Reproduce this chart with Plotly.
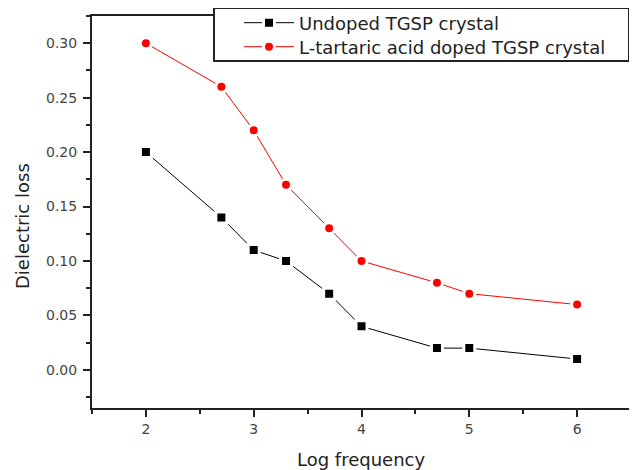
import plotly.graph_objects as go

log_freq = [2, 2.7, 3, 3.3, 3.7, 4, 4.7, 5, 6]
undoped = [0.20, 0.14, 0.11, 0.10, 0.07, 0.04, 0.02, 0.02, 0.01]
doped = [0.30, 0.26, 0.22, 0.17, 0.13, 0.10, 0.08, 0.07, 0.06]
x_ticks = [2, 3, 4, 5, 6]
y_ticks = [0.00, 0.05, 0.10, 0.15, 0.20, 0.25, 0.30]

FONT = "DejaVu Sans"
OFF = 8                      # page body margin
W, H = 637 - OFF, 470 - OFF
PL, PR, PT, PB = 92, 631, 16, 408   # plot area in page pixels
pw, ph = PR - PL, PB - PT


def xp(X):
    return (X - PL) / pw


def yp(Y):
    return (PB - Y) / ph


fig = go.Figure()
fig.add_trace(go.Scatter(
    x=log_freq, y=undoped, mode="lines+markers", name="Undoped TGSP crystal",
    line=dict(color="black", width=1), legend="legend",
    marker=dict(symbol="square", size=11, color="black", line=dict(color="white", width=3)),
))
fig.add_trace(go.Scatter(
    x=log_freq, y=doped, mode="lines+markers", name="L-tartaric acid doped TGSP crystal",
    line=dict(color="red", width=1), legend="legend2",
    marker=dict(symbol="circle", size=11, color="red", line=dict(color="white", width=3)),
))

axis_common = dict(
    showline=True, linecolor="#222", linewidth=2, mirror=True,
    ticks="outside", ticklen=7, tickwidth=2, tickcolor="#222",
    showgrid=False, zeroline=False, automargin=False,
    tickfont=dict(family=FONT, size=14, color="#444"),
)
fig.update_xaxes(
    range=[1.5, 6.5], tickvals=x_ticks, ticktext=[str(v) for v in x_ticks],
    minor=dict(dtick=0.5, tick0=1.5, ticks="outside", ticklen=4, tickwidth=2, tickcolor="#222"),
    ticklabelstandoff=0,
    **axis_common,
)
fig.update_yaxes(
    range=[-0.035, 0.325], tickvals=y_ticks, ticktext=[f"{v:.2f}" for v in y_ticks],
    minor=dict(dtick=0.025, tick0=0, ticks="outside", ticklen=4, tickwidth=2, tickcolor="#222"),
    ticklabelstandoff=3,
    **axis_common,
)
fig.add_annotation(
    text="Log frequency", xref="paper", yref="paper",
    x=xp(361), y=yp(459), xanchor="center", yanchor="middle", showarrow=False,
    font=dict(family=FONT, size=18, color="#222"),
)
fig.add_annotation(
    text="Dielectric loss", xref="paper", yref="paper", textangle=-90,
    x=xp(22), y=yp(226), xanchor="center", yanchor="middle", showarrow=False,
    font=dict(family=FONT, size=18, color="#222"),
)
# legend frame
fig.add_shape(
    type="rect", xref="paper", yref="paper", layer="above",
    x0=xp(214), x1=xp(629), y0=yp(61), y1=yp(8),
    fillcolor="white", line=dict(color="#222", width=2),
)
leg_common = dict(
    xanchor="left", yanchor="middle",
    bgcolor="rgba(0,0,0,0)", borderwidth=0,
    font=dict(family=FONT, size=18, color="#222"),
    itemwidth=50,
)
fig.update_layout(
    width=W, height=H,
    margin=dict(l=PL - OFF, r=W - (PR - OFF), t=PT - OFF, b=H - (PB - OFF), autoexpand=False),
    plot_bgcolor="white", paper_bgcolor="white",
    showlegend=True,
    legend=dict(x=xp(239), y=yp(23), **leg_common),
    legend2=dict(x=xp(239), y=yp(47), **leg_common),
)
fig.write_html("out.html")
